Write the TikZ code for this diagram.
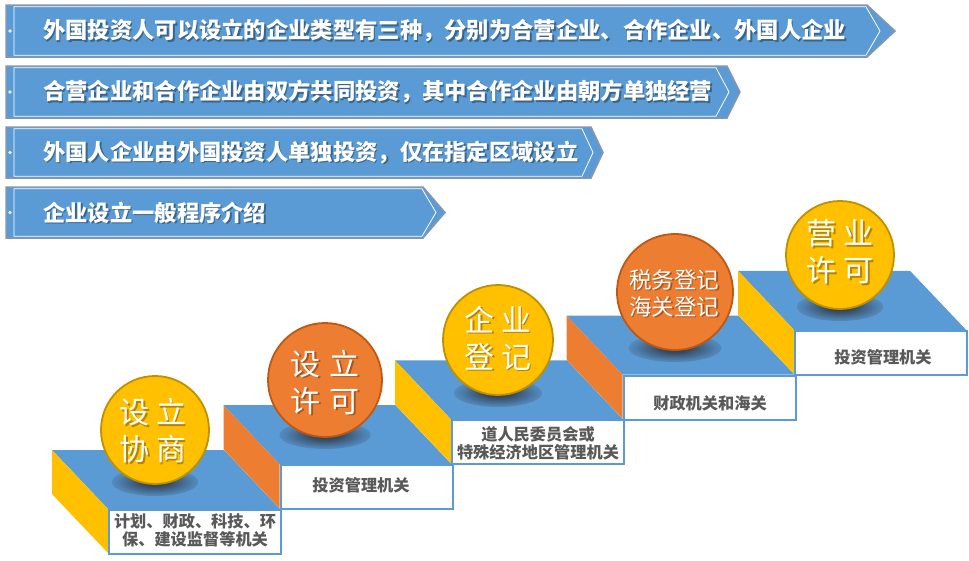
\documentclass[tikz,border=0pt]{standalone}
\usepackage{fontspec}
\newfontfamily\cjk{Noto Sans CJK SC}
\usetikzlibrary{calc}
\definecolor{stepblue}{RGB}{91,155,213}
\definecolor{gold}{RGB}{255,192,0}
\definecolor{goldline}{RGB}{191,144,0}
\definecolor{orng}{RGB}{237,125,49}
\definecolor{orngline}{RGB}{190,88,20}
\definecolor{bannergray}{RGB}{132,151,176}
\definecolor{labelgray}{RGB}{89,89,89}
\definecolor{shadowdark}{RGB}{45,55,70}
\pgfdeclareradialshading{ballshade}{\pgfpoint{0bp}{0bp}}{color(0bp)=(shadowdark); color(8bp)=(shadowdark!80!stepblue); color(22bp)=(shadowdark!25!stepblue); color(32bp)=(stepblue); color(50bp)=(stepblue)}
\tikzset{
  bannertext/.style={text=white, font=\cjk\bfseries\fontsize{22.3}{26}\selectfont, anchor=west, inner sep=0},
  bannershadow/.style={bannertext, text=black, opacity=0.35},
  circtext/.style={text=white, font=\cjk\fontsize{30}{37}\selectfont, align=center, inner sep=0},
  circshadow/.style={text=black, opacity=0.3},
  labeltext/.style={text=labelgray, font=\cjk\bfseries\fontsize{16.2}{18}\selectfont, align=center, inner sep=0},
  labelbox/.style={draw=stepblue, fill=white, line width=2, minimum width=172, minimum height=44, anchor=north west, inner sep=0},
  goldball/.style={circle, fill=gold, draw=goldline, line width=1.8, inner sep=0},
  orangeball/.style={circle, fill=orng, draw=orngline, line width=1.8, inner sep=0},
}
% #1 top, #2 bottom, #3 outer corner x, #4 outer tip x, #5 inner corner x, #6 inner tip x, #7 name, #8 text
\newcommand\bannerdraw[8]{%
  \pgfmathsetmacro\bmid{(#1+#2)/2}%
  \fill[stepblue, draw=bannergray, line width=1.5] (6,#1) -- (#3,#1) -- (#4,\bmid) -- (#3,#2) -- (6,#2) -- cycle;
  \draw[white, line width=0.8] (14,#1+1.8) -- (#5,#1+1.8) -- (#6,\bmid) -- (#5,#2-1.8) -- (14,#2-1.8) -- cycle;
  \fill[white!85!gray] (10,\bmid) circle (1.8);
  \node[bannershadow] at (44.5,\bmid+1.5) {#8};
  \node[bannertext] (#7) at (43,\bmid) {#8};
}
% #1 index, #2 side colour
\newcommand\stepslab[2]{%
  \pgfmathsetmacro\fx{108+171.5*#1}%
  \pgfmathsetmacro\fy{509-44.8*#1}%
  \fill[stepblue] (\fx-56,\fy-59) -- (\fx+116,\fy-59) -- (\fx+172,\fy) -- (\fx,\fy) -- cycle;
  \fill[#2] (\fx-56,\fy-59) -- (\fx,\fy) -- (\fx,\fy+44) -- (\fx-56,\fy-15) -- cycle;
  \node[labelbox] (box#1) at (\fx,\fy) {};
}
% #1 cx, #2 cy, #3 r, #4 style, #5 name
\newcommand\ball[5]{%
  \shade[shading=ballshade] (#1,#2+#3-2) ellipse [x radius={0.8*#3}, y radius=14];
  \node[#4, minimum size={2*#3}] (#5) at (#1,#2) {};
}
\begin{document}
\begin{tikzpicture}[x=1pt,y=-1pt]
\useasboundingbox (0,0) rectangle (969,560);

\bannerdraw{5}{57}{867}{895}{866}{880}{b1}{外国投资人可以设立的企业类型有三种，分别为合营企业、合作企业、外国人企业}
\bannerdraw{66}{118}{727}{740}{716}{729}{b2}{合营企业和合作企业由双方共同投资，其中合作企业由朝方单独经营}
\bannerdraw{127}{178}{591}{603}{582}{593}{b3}{外国人企业由外国投资人单独投资，仅在指定区域设立}
\bannerdraw{187}{238}{423}{445}{422}{436}{b4}{企业设立一般程序介绍}

% step 1
\stepslab{0}{gold}
\node[labeltext] (l1) at (195,530) {计划、财政、科技、环\\保、建设监督等机关};
\ball{155}{430}{54}{goldball}{c1}
\node[circtext, circshadow] at (154.5,432.5) {设\kern7pt 立\\协\kern7pt 商};
\node[circtext] (t1) at (153,431) {设\kern7pt 立\\协\kern7pt 商};

% step 2
\stepslab{1}{orng}
\node[labeltext] (l2) at (361,485) {投资管理机关};
\ball{325}{380}{57}{orangeball}{c2}
\node[circtext, circshadow] at (326.5,383.5) {设\kern9pt 立\\许\kern9pt 可};
\node[circtext] (t2) at (325,382) {设\kern9pt 立\\许\kern9pt 可};

% step 3
\stepslab{2}{gold}
\node[labeltext] (l3) at (538,443) {道人民委员会或\\特殊经济地区管理机关};
\ball{498}{340}{55}{goldball}{c3}
\node[circtext, circshadow] at (499.5,339.5) {企\kern7pt 业\\登\kern7pt 记};
\node[circtext] (t3) at (498,338) {企\kern7pt 业\\登\kern7pt 记};

% step 4
\stepslab{3}{orng}
\node[labeltext] (l4) at (710,403) {财政机关和海关};
\ball{675}{292}{58}{orangeball}{c4}
\node[circtext, circshadow, font=\cjk\fontsize{22.5}{27}\selectfont] at (675.5,294.5) {税务登记\\海关登记};
\node[circtext, font=\cjk\fontsize{22.5}{27}\selectfont] (t4) at (674,293) {税务登记\\海关登记};

% step 5
\stepslab{4}{gold}
\node[labeltext] (l5) at (883,357) {投资管理机关};
\ball{840}{255}{54}{goldball}{c5}
\node[circtext, circshadow] at (841.5,253.5) {营\kern7pt 业\\许\kern7pt 可};
\node[circtext] (t5) at (840,252) {营\kern7pt 业\\许\kern7pt 可};
\end{tikzpicture}
\end{document}
